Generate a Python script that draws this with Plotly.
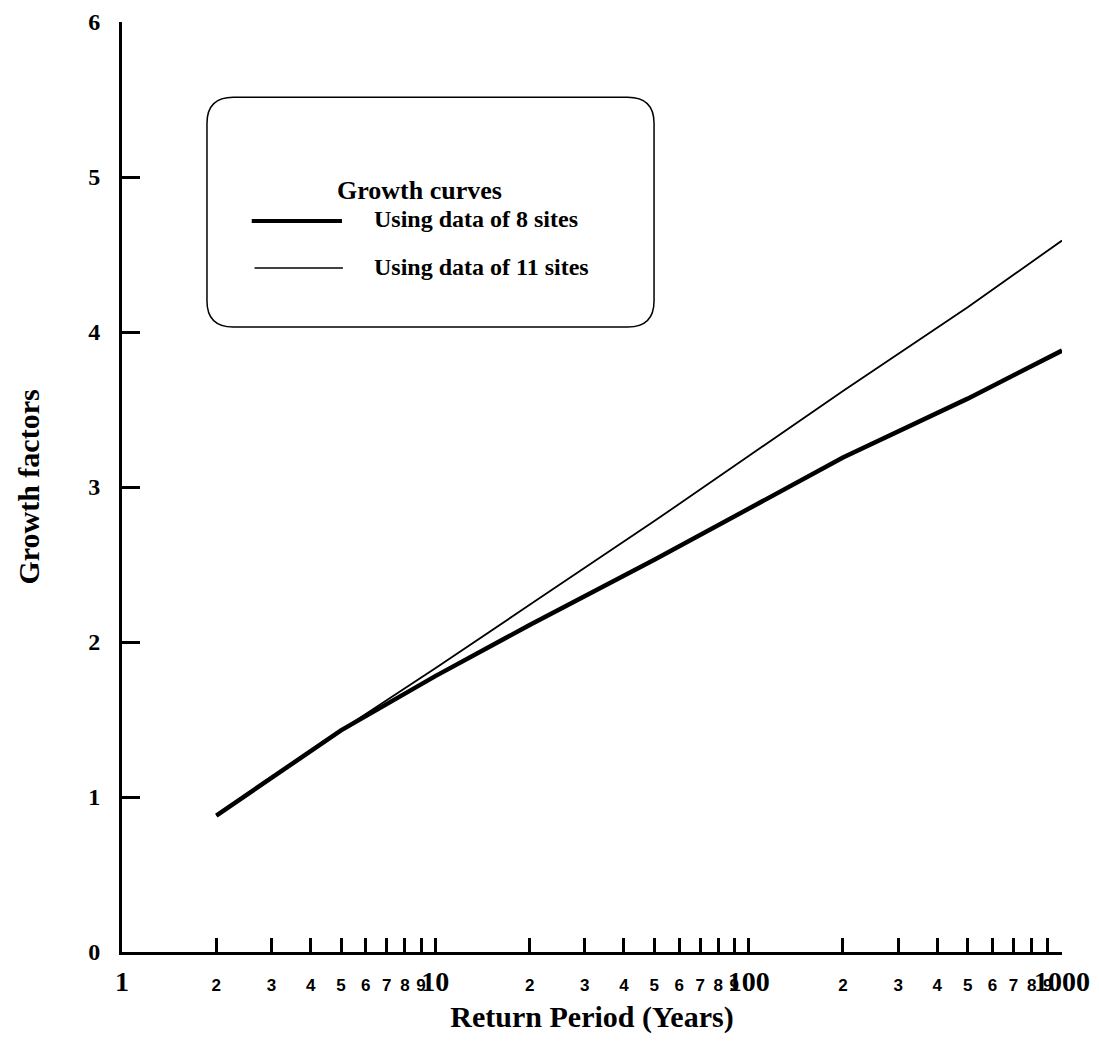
import numpy as np
import plotly.graph_objects as go

# Data
return_period = [2, 3, 5, 10, 20, 50, 100, 200, 500, 1000]
growth_8_sites = [0.88, 1.12, 1.43, 1.78, 2.11, 2.53, 2.86, 3.19, 3.57, 3.88]
growth_11_sites = [0.88, 1.12, 1.43, 1.83, 2.24, 2.78, 3.20, 3.62, 4.16, 4.59]

x_tick_vals = [1, 2, 3, 4, 5, 6, 7, 8, 9, 10, 20, 30, 40, 50, 60, 70, 80, 90, 100,
               200, 300, 400, 500, 600, 700, 800, 900, 1000]
x_tick_major = [1, 10, 100, 1000]
y_tick_vals = [0, 1, 2, 3, 4, 5, 6]

serif = "Liberation Serif"
sans = "Liberation Sans"


def xlabel(v):
    if v in x_tick_major:
        return f'<span style="font-family:{serif};font-size:28px">{v}</span>'
    return str(int(str(v)[0]))


x_tick_text = [xlabel(v) for v in x_tick_vals]

fig = go.Figure()
fig.add_trace(go.Scatter(x=return_period, y=growth_11_sites, mode="lines",
                         line=dict(color="black", width=1.8), name="Using data of 11 sites",
                         showlegend=False))
fig.add_trace(go.Scatter(x=return_period, y=growth_8_sites, mode="lines",
                         line=dict(color="black", width=4.5), name="Using data of 8 sites",
                         showlegend=False))

# Legend box (rounded rectangle) in paper coordinates
L, R, T, B = 0.0904, 0.566, 0.919, 0.672
rx, ry = 0.028, 0.028
path = (f"M {L+rx},{T} L {R-rx},{T} Q {R},{T} {R},{T-ry} L {R},{B+ry} Q {R},{B} {R-rx},{B} "
        f"L {L+rx},{B} Q {L},{B} {L},{B+ry} L {L},{T-ry} Q {L},{T} {L+rx},{T} Z")
fig.add_shape(type="path", path=path, xref="paper", yref="paper",
              line=dict(color="black", width=1.5), fillcolor="rgba(0,0,0,0)")

# legend samples
fig.add_shape(type="line", xref="paper", yref="paper", x0=0.138, x1=0.234, y0=0.786, y1=0.786,
              line=dict(color="black", width=4))
fig.add_shape(type="line", xref="paper", yref="paper", x0=0.141, x1=0.235, y0=0.7355, y1=0.7355,
              line=dict(color="black", width=1.6))

fig.add_annotation(text="Growth curves", xref="paper", yref="paper", x=0.317, y=0.819,
                   showarrow=False, xanchor="center", yanchor="middle",
                   font=dict(family=serif, size=26, color="black", weight="bold"))
fig.add_annotation(text="Using data of 8 sites", xref="paper", yref="paper", x=0.266, y=0.788,
                   showarrow=False, xanchor="left", yanchor="middle",
                   font=dict(family=serif, size=24, color="black", weight="bold"))
fig.add_annotation(text="Using data of 11 sites", xref="paper", yref="paper", x=0.266, y=0.737,
                   showarrow=False, xanchor="left", yanchor="middle",
                   font=dict(family=serif, size=24, color="black", weight="bold"))

fig.update_layout(
    width=1099, height=1043,
    margin=dict(l=122, r=37, t=22, b=91, autoexpand=False),
    paper_bgcolor="white", plot_bgcolor="white",
    showlegend=False,
    xaxis=dict(
        type="log", range=[0, 3], automargin=False,
        tickmode="array", tickvals=x_tick_vals, ticktext=x_tick_text,
        tickangle=0,
        ticks="inside", ticklen=14, tickwidth=3, tickcolor="black",
        showline=True, linewidth=3, linecolor="black",
        showgrid=False, zeroline=False,
        tickfont=dict(family=sans, size=17, color="black", weight="bold"),
        ticklabelstandoff=16,
        title=dict(text="Return Period (Years)", standoff=10,
                   font=dict(family=serif, size=30, color="black", weight="bold")),
    ),
    yaxis=dict(
        range=[0, 6], automargin=False,
        tickmode="array", tickvals=y_tick_vals, ticktext=[str(v) for v in y_tick_vals],
        ticks="inside", ticklen=18, tickwidth=3, tickcolor="black",
        showline=True, linewidth=3, linecolor="black",
        showgrid=False, zeroline=False,
        tickfont=dict(family=serif, size=24, color="black", weight="bold"),
        ticklabelstandoff=14,
        title=dict(text="Growth factors", standoff=40,
                   font=dict(family=serif, size=30, color="black", weight="bold")),
    ),
)

fig.write_html("out.html")
